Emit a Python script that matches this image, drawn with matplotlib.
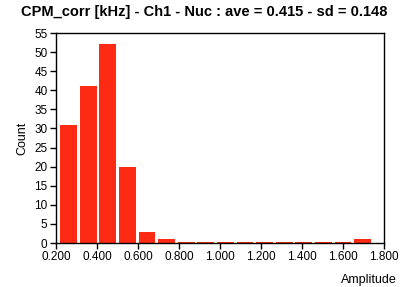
import numpy as np
import matplotlib
matplotlib.use('Agg')
import matplotlib.pyplot as plt

# histogram bins (left edge of first bin, bin width) and counts
bin_start = 0.214
bin_width = 0.0956
counts = [31, 41, 52, 20, 3, 1, 0, 0, 0, 0, 0, 0, 0, 0, 0, 1]

title = 'CPM_corr [kHz] - Ch1 - Nuc : ave = 0.415 - sd = 0.148'
x_ticks = [0.2, 0.4, 0.6, 0.8, 1.0, 1.2, 1.4, 1.6, 1.8]
y_ticks = list(range(0, 56, 5))

plt.rcParams['font.family'] = ['Liberation Sans', 'DejaVu Sans']

fig = plt.figure(figsize=(4.08, 2.87), dpi=100)
ax = fig.add_axes([0.137, 0.153, 0.804, 0.732])

lefts = bin_start + bin_width * np.arange(len(counts))
heights = np.maximum(np.array(counts, dtype=float), 0.3)  # empty bins drawn as a thin line
ax.bar(lefts + bin_width * 0.07, heights, width=bin_width * 0.86, align='edge',
       color='#ff2a14', edgecolor='none')

ax.set_xlim(0.2, 1.8)
ax.set_ylim(0, 55)
ax.set_xticks(x_ticks)
ax.set_xticklabels(['%.3f' % v for v in x_ticks])
ax.set_yticks(y_ticks)
ax.tick_params(direction='out', length=4, width=1, labelsize=8.5, pad=2)
for s in ax.spines.values():
    s.set_linewidth(1)

fig.text(0.5, 0.958, title, fontsize=10.5, fontweight='bold', ha='center', va='center')
ax.set_ylabel('Count', fontsize=9, labelpad=4)
ax.set_xlabel('Amplitude', fontsize=9)
ax.xaxis.set_label_coords(0.955, -0.145)

fig.savefig('out.png', dpi=100)
